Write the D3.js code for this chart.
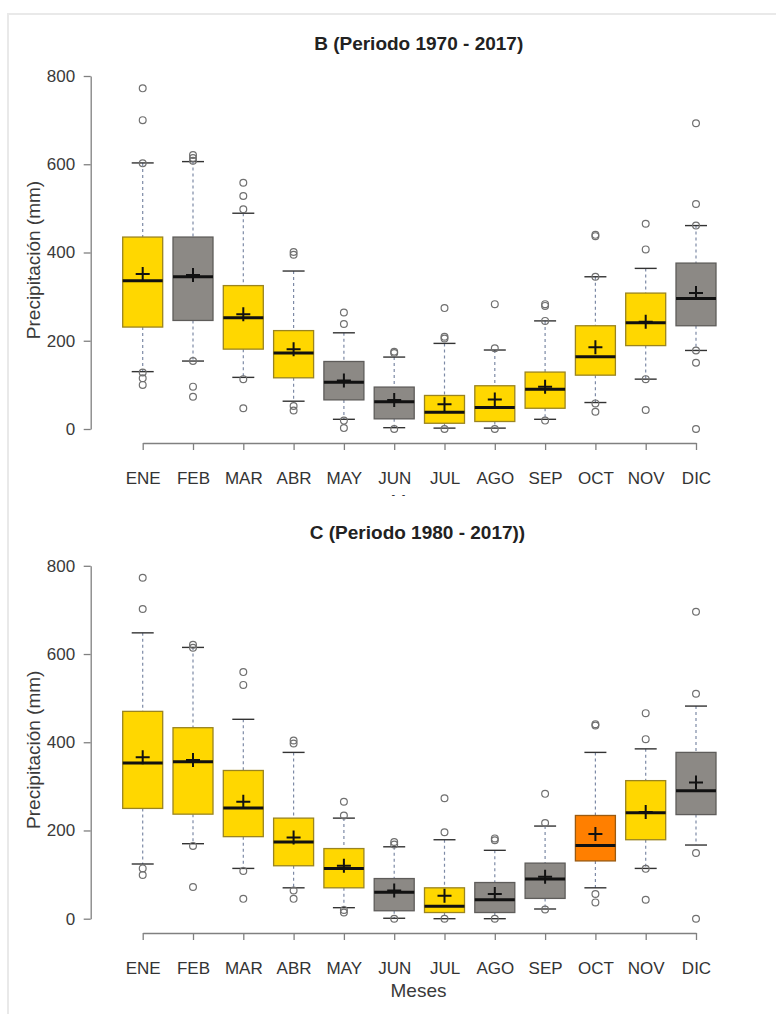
<!DOCTYPE html>
<html>
<head>
<meta charset="utf-8">
<script src="https://cdn.jsdelivr.net/npm/d3@7"></script>
<style>
  body { margin: 0; background: #fff; }
  svg { display: block; font-family: "Liberation Sans", Arial, sans-serif; }
</style>
</head>
<body>
<script>
const months = ['ENE', 'FEB', 'MAR', 'ABR', 'MAY', 'JUN', 'JUL', 'AGO', 'SEP', 'OCT', 'NOV', 'DIC'];
const yTicks = [0, 200, 400, 600, 800];

// B (1970 - 2017)
const colorsB = ['Y', 'G', 'Y', 'Y', 'G', 'G', 'Y', 'Y', 'Y', 'Y', 'Y', 'G'];
const lowB  = [130, 154, 117, 63, 22, 3, 2, 2, 22, 60, 113, 178];
const q1B   = [231, 246, 181, 116, 66, 23, 13, 17, 47, 122, 189, 234];
const medB  = [336, 345, 252, 172, 106, 62, 38, 49, 90, 164, 241, 296];
const q3B   = [435, 435, 325, 223, 153, 95, 76, 98, 129, 234, 308, 376];
const highB = [603, 606, 489, 358, 218, 163, 194, 179, 245, 345, 364, 461];
const meanB = [351, 349, 260, 181, 110, 66, 56, 67, 96, 185, 243, 308];
const outB = [
  [772, 700, 602, 128, 115, 100],
  [621, 614, 608, 154, 96, 73],
  [558, 528, 498, 113, 47],
  [401, 395, 52, 42],
  [264, 238, 19, 2],
  [175, 172, 0],
  [274, 209, 205, 0],
  [283, 183, 0],
  [283, 279, 245, 19],
  [440, 437, 345, 58, 39],
  [465, 407, 113, 43],
  [693, 510, 461, 178, 150, 0]
];

// C (1980 - 2017)
const colorsC = ['Y', 'Y', 'Y', 'Y', 'Y', 'G', 'Y', 'G', 'G', 'O', 'Y', 'G'];
const lowC  = [124, 170, 114, 70, 25, 1, 0, 0, 22, 70, 114, 167];
const q1C   = [250, 237, 186, 120, 70, 18, 14, 14, 46, 131, 179, 236];
const medC  = [353, 356, 251, 174, 114, 60, 28, 43, 90, 166, 240, 290];
const q3C   = [470, 433, 336, 228, 159, 91, 70, 82, 126, 234, 313, 377];
const highC = [648, 615, 452, 377, 228, 163, 179, 155, 210, 377, 385, 482];
const meanC = [366, 360, 265, 184, 120, 64, 52, 56, 95, 192, 242, 309];
const outC = [
  [773, 702, 114, 99],
  [621, 614, 165, 72],
  [559, 530, 108, 45],
  [404, 397, 64, 45],
  [265, 234, 20, 14],
  [174, 168, 0],
  [273, 196, 0],
  [182, 178, 0],
  [283, 217, 21],
  [441, 438, 56, 37],
  [466, 407, 113, 43],
  [696, 510, 149, 0]
];

const fills = { Y: '#FFD700', G: '#8C8985', O: '#FF7F00' };
const strokes = { Y: '#9A8420', G: '#5E5C5A', O: '#9A5A10' };

const width = 776, height = 1014;
const boxW = 40;
const font = '"Liberation Sans", Arial, sans-serif';

const svg = d3.select('body').append('svg')
  .attr('width', width)
  .attr('height', height);

// faint outer frame
svg.append('rect')
  .attr('x', 8).attr('y', 14)
  .attr('width', 900).attr('height', 1100)
  .attr('fill', 'none')
  .attr('stroke', '#e9e9e9')
  .attr('stroke-width', 2);

svg.append('clipPath').attr('id', 'clipTop')
  .append('rect').attr('x', 0).attr('y', 0).attr('width', width).attr('height', 496);

function drawPanel(p) {
  const x = d3.scalePoint().domain(months).range([p.xFirst, p.xLast]);
  const y = d3.scaleLinear().domain([0, 800]).range([p.y0, p.y800]);
  const g = svg.append('g');

  const rows = months.map((m, i) => ({
    m, col: p.colors[i], lo: p.low[i], q1: p.q1[i], med: p.med[i],
    q3: p.q3[i], hi: p.high[i], mean: p.mean[i], out: p.out[i]
  }));

  // y axis
  const ya = g.append('g')
    .attr('transform', `translate(${p.yAxisX},0)`)
    .call(d3.axisLeft(y).tickValues(yTicks).tickSize(7).tickSizeOuter(0).tickPadding(8.5));
  ya.select('.domain').attr('stroke', '#808080').attr('stroke-width', 1.3);
  ya.selectAll('.tick line').attr('stroke', '#808080').attr('stroke-width', 1.3);
  ya.selectAll('.tick text').attr('fill', '#3a3a3a').style('font-size', '17px').style('font-family', font);

  // x axis
  const xa = g.append('g')
    .attr('transform', `translate(0,${p.xAxisY})`)
    .call(d3.axisBottom(x).tickSize(7).tickSizeOuter(0).tickPadding(22));
  xa.select('.domain').attr('stroke', '#808080').attr('stroke-width', 1.3);
  xa.selectAll('.tick line').attr('stroke', '#808080').attr('stroke-width', 1.3);
  xa.selectAll('.tick text').attr('fill', '#333').style('font-size', '17px').style('font-family', font);

  const b = g.selectAll('.bx').data(rows).join('g').attr('class', 'bx');
  // whiskers (dashed)
  b.append('line')
    .attr('x1', d => x(d.m)).attr('x2', d => x(d.m))
    .attr('y1', d => y(d.hi)).attr('y2', d => y(d.q3))
    .attr('stroke', '#7d8aa6').attr('stroke-width', 1.2).attr('stroke-dasharray', '3,3');
  b.append('line')
    .attr('x1', d => x(d.m)).attr('x2', d => x(d.m))
    .attr('y1', d => y(d.q1)).attr('y2', d => y(d.lo))
    .attr('stroke', '#7d8aa6').attr('stroke-width', 1.2).attr('stroke-dasharray', '3,3');
  // caps
  ['hi', 'lo'].forEach(k => {
    b.append('line')
      .attr('x1', d => x(d.m) - 11).attr('x2', d => x(d.m) + 11)
      .attr('y1', d => y(d[k])).attr('y2', d => y(d[k]))
      .attr('stroke', '#333').attr('stroke-width', 1.4);
  });
  // outliers
  b.selectAll('circle').data(d => d.out.map(v => ({ m: d.m, v })))
    .join('circle')
    .attr('cx', d => x(d.m)).attr('cy', d => y(d.v))
    .attr('r', 3.4)
    .attr('fill', 'none').attr('stroke', '#707070').attr('stroke-width', 1.2);
  // box
  b.append('rect')
    .attr('x', d => x(d.m) - boxW / 2).attr('width', boxW)
    .attr('y', d => y(d.q3)).attr('height', d => y(d.q1) - y(d.q3))
    .attr('fill', d => fills[d.col]).attr('stroke', d => strokes[d.col]).attr('stroke-width', 1.3);
  // median
  b.append('line')
    .attr('x1', d => x(d.m) - boxW / 2).attr('x2', d => x(d.m) + boxW / 2)
    .attr('y1', d => y(d.med)).attr('y2', d => y(d.med))
    .attr('stroke', '#111').attr('stroke-width', 3);
  // mean marker (+)
  b.append('path')
    .attr('d', d => `M${x(d.m) - 7},${y(d.mean)}h14M${x(d.m)},${y(d.mean) - 7}v14`)
    .attr('stroke', '#111').attr('stroke-width', 2).attr('fill', 'none');

  // title
  g.append('text')
    .attr('x', p.titleX).attr('y', p.titleY)
    .attr('text-anchor', 'middle').attr('dominant-baseline', 'central')
    .style('font-size', '19px').style('font-weight', 'bold').attr('fill', '#222')
    .text(p.title);

  // y label
  g.append('text')
    .attr('transform', `translate(${p.ylabX},${(p.y0 + p.y800) / 2 + 7.5}) rotate(-90)`)
    .attr('text-anchor', 'middle')
    .style('font-size', '19px').attr('fill', '#3a3a3a')
    .text('Precipitación (mm)');

  // x label
  g.append('text')
    .attr('x', 418.5).attr('y', p.mesesY)
    .attr('text-anchor', 'middle').attr('dominant-baseline', 'central')
    .attr('clip-path', p.clip ? 'url(#clipTop)' : null)
    .style('font-size', '19px').attr('fill', '#3a3a3a')
    .text('Meses');
}

drawPanel({
  title: 'B (Periodo 1970 - 2017)', titleX: 418.7, titleY: 43.8,
  colors: colorsB, low: lowB, q1: q1B, med: medB, q3: q3B, high: highB, mean: meanB, out: outB,
  xFirst: 142.7, xLast: 696, y0: 429, y800: 76, yAxisX: 90.7, xAxisY: 443,
  ylabX: 40, mesesY: 501.2, clip: true
});

drawPanel({
  title: 'C (Periodo 1980 - 2017))', titleX: 417.5, titleY: 532,
  colors: colorsC, low: lowC, q1: q1C, med: medC, q3: q3C, high: highC, mean: meanC, out: outC,
  xFirst: 142.7, xLast: 696, y0: 918.7, y800: 565.8, yAxisX: 90.7, xAxisY: 933,
  ylabX: 40, mesesY: 990.5, clip: false
});
</script>
</body>
</html>
